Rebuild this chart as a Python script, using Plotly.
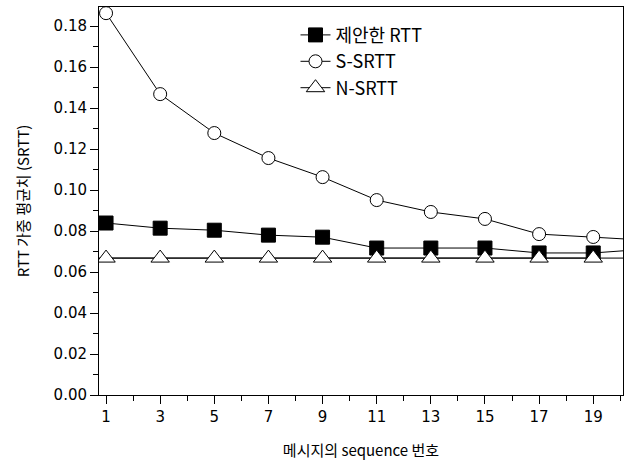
import plotly.graph_objects as go

seq = [1, 3, 5, 7, 9, 11, 13, 15, 17, 19, 21]
proposed_rtt = [0.0839, 0.0814, 0.0804, 0.0780, 0.0770, 0.0717, 0.0717, 0.0717, 0.0693, 0.0693, 0.0712]
s_srtt = [0.1863, 0.1468, 0.1278, 0.1156, 0.1063, 0.0951, 0.0893, 0.0859, 0.0785, 0.0771, 0.0755]
n_seq = [1, 3, 5, 7, 9, 11, 13, 15, 17, 19]
n_srtt = [0.0668] * 10

x_ticks = [1, 3, 5, 7, 9, 11, 13, 15, 17, 19]
series_names = ["제안한 RTT", "S-SRTT", "N-SRTT"]

num_font = "DejaVu Sans"
kr_font = "Noto Sans CJK KR"

fig = go.Figure()
fig.add_trace(go.Scatter(
    x=seq, y=proposed_rtt, name=series_names[0], mode="lines+markers",
    line=dict(color="black", width=1),
    marker=dict(symbol="square", size=14, color="black", line=dict(color="black", width=1)),
))
fig.add_trace(go.Scatter(
    x=seq, y=s_srtt, name=series_names[1], mode="lines+markers",
    line=dict(color="black", width=1),
    marker=dict(symbol="circle", size=13, color="white", line=dict(color="black", width=1)),
))
fig.add_trace(go.Scatter(
    x=n_seq, y=n_srtt, name=series_names[2], mode="lines+markers",
    line=dict(color="black", width=1),
    marker=dict(symbol="triangle-up", size=16, color="white", line=dict(color="black", width=1)),
))
# horizontal N-SRTT level spanning the whole plot width
fig.add_shape(type="line", xref="paper", x0=0, x1=1, yref="y", y0=n_srtt[0], y1=n_srtt[0],
              line=dict(color="black", width=1), layer="below")

fig.update_layout(
    width=627, height=463,
    margin=dict(l=99, r=4, t=7, b=68, autoexpand=False),
    paper_bgcolor="white", plot_bgcolor="white",
    font=dict(family=num_font, size=15, color="black"),
    showlegend=True,
    legend=dict(x=0.375, y=0.975, xanchor="left", yanchor="top",
                bgcolor="rgba(0,0,0,0)", font=dict(family=kr_font, size=18),
                tracegroupgap=0, itemsizing="trace"),
    xaxis=dict(
        range=[0.74, 20.1], tickmode="array", tickvals=x_ticks,
        ticktext=[str(v) for v in x_ticks],
        ticks="outside", ticklen=8, tickwidth=1, tickcolor="black",
        minor=dict(ticks="outside", ticklen=5, dtick=1, tick0=0, tickcolor="black"),
        showline=True, linecolor="black", linewidth=1, mirror=True,
        showgrid=False, zeroline=False, automargin=False,
        tickfont=dict(family=num_font, size=15),
        title=dict(text="메시지의 sequence 번호", font=dict(family=kr_font, size=15), standoff=20),
    ),
    yaxis=dict(
        range=[0, 0.1893], dtick=0.02, tick0=0, tickformat=".2f",
        ticks="outside", ticklen=8, tickwidth=1, tickcolor="black",
        minor=dict(ticks="outside", ticklen=5, dtick=0.01, tickcolor="black"),
        showline=True, linecolor="black", linewidth=1, mirror=True,
        showgrid=False, zeroline=False, automargin=False,
        tickfont=dict(family=num_font, size=15),
        title=dict(text="RTT 가중 평균치 (SRTT)", font=dict(family=kr_font, size=15), standoff=20),
    ),
)

fig.write_html("out.html", post_script="document.body.style.margin='0';",
               config={"displayModeBar": False})
